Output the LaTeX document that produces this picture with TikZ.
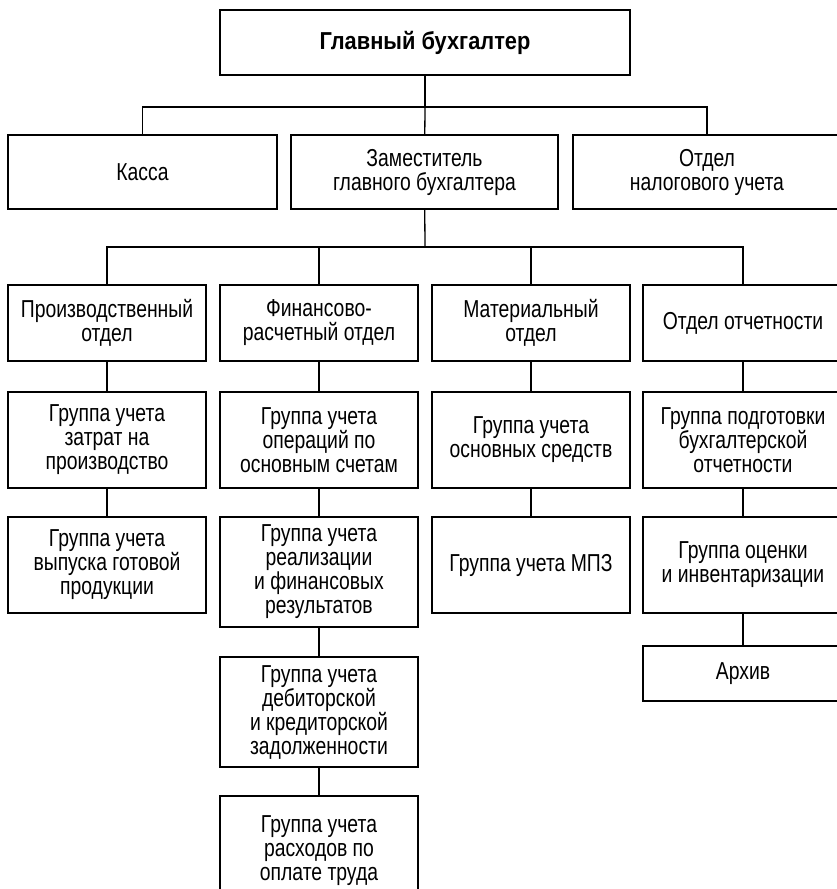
\documentclass[tikz,border=0pt]{standalone}
\usepackage{fontspec}
\setmainfont{Liberation Sans}[FakeStretch=0.79]
\newfontfamily\glavfont{Liberation Sans}[FakeStretch=0.89]
\begin{document}
\begin{tikzpicture}[x=1pt,y=-1pt,
  box/.style={rectangle,draw,line width=1.5pt,align=center,inner sep=2pt,
    minimum width=198pt,font=\fontsize{24.5}{24}\selectfont},
  link/.style={line width=1.3pt}]
\clip (0,0) rectangle (837,889);

% top
\node[box,minimum width=410pt,minimum height=65pt,font=\fontsize{24.5}{24}\glavfont\bfseries] (glav) at (425,42.5) {Главный бухгалтер};

% second row
\node[box,minimum width=269pt,minimum height=74pt] (kassa) at (142.5,172) {Касса};
\node[box,minimum width=267pt,minimum height=74pt] (zam) at (424.5,172) {Заместитель\\главного бухгалтера};
\node[box,minimum width=268pt,minimum height=74pt] (nalog) at (707,172) {Отдел\\налогового учета};

% departments
\node[box,minimum height=76pt] (proizv) at (107,323) {Производственный\\отдел};
\node[box,minimum height=76pt] (fin) at (319,323) {Финансово-\\расчетный отдел};
\node[box,minimum height=76pt] (mat) at (531,323) {Материальный\\отдел};
\node[box,minimum width=200pt,minimum height=76pt] (otch) at (743,323) {Отдел отчетности};

% groups
\node[box,minimum height=96pt] (zatr) at (107,440) {Группа учета\\затрат на\\производство};
\node[box,minimum height=96pt] (vyp) at (107,565) {Группа учета\\выпуска готовой\\продукции};

\node[box,minimum height=96pt] (oper) at (319,440) {Группа учета\\операций по\\основным счетам};
\node[box,minimum height=110pt] (real) at (319,572) {Группа учета\\реализации\\и финансовых\\результатов};
\node[box,minimum height=110pt] (deb) at (319,712) {Группа учета\\дебиторской\\и кредиторской\\задолженности};
\node[box,minimum height=110pt] (trud) at (319,851) {Группа учета\\расходов по\\оплате труда};

\node[box,minimum height=96pt] (os) at (531,440) {Группа учета\\основных средств};
\node[box,minimum height=96pt] (mpz) at (531,565) {Группа учета МПЗ};

\node[box,minimum width=200pt,minimum height=96pt] (podg) at (743,440) {Группа подготовки\\бухгалтерской\\отчетности};
\node[box,minimum width=200pt,minimum height=96pt] (ocen) at (743,565) {Группа оценки\\и инвентаризации};
\node[box,minimum width=200pt,minimum height=55pt] (arh) at (743,673.5) {Архив};

% connectors
\coordinate (bus1) at (425,107);
\coordinate (bus2) at (425,247);

\draw[link] (glav) -- (bus1);
\draw[link] (kassa.north) |- (bus1) -| (nalog.north);
\draw[link] (bus1) -- (zam);

\draw[link] (zam) -- (bus2);
\draw[link] (proizv.north) |- (bus2) -| (otch.north);
\draw[link] (fin.north) -- (fin.north |- bus2);
\draw[link] (mat.north) -- (mat.north |- bus2);

\draw[link] (proizv) -- (zatr);
\draw[link] (zatr) -- (vyp);
\draw[link] (fin) -- (oper);
\draw[link] (oper) -- (real);
\draw[link] (real) -- (deb);
\draw[link] (deb) -- (trud);
\draw[link] (mat) -- (os);
\draw[link] (os) -- (mpz);
\draw[link] (otch) -- (podg);
\draw[link] (podg) -- (ocen);
\draw[link] (ocen) -- (arh);

\end{tikzpicture}
\end{document}
